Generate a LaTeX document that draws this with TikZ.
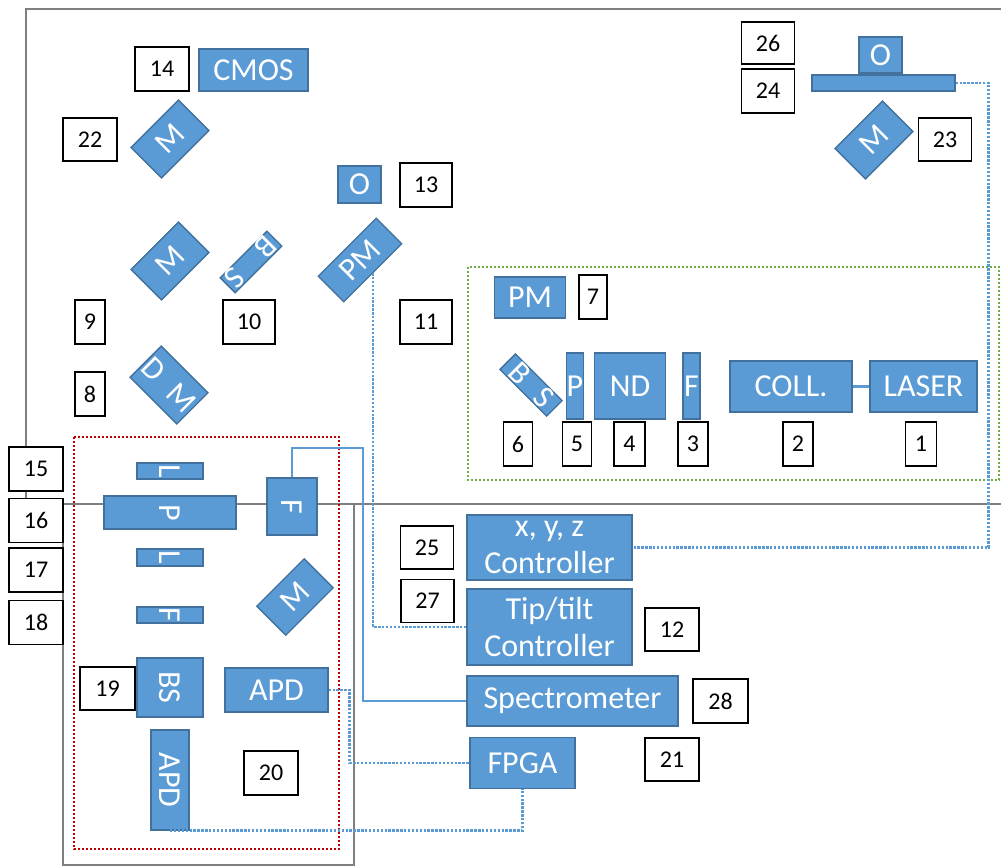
\documentclass[tikz,border=0pt]{standalone}
\usepackage{fontspec}
\setmainfont{Carlito}
\usepackage{graphicx}
\usepackage{tikz}

\definecolor{compblue}{HTML}{5B9BD5}
\definecolor{compedge}{HTML}{41719C}
\definecolor{benchgray}{HTML}{7F7F7F}
\definecolor{zonered}{HTML}{C00000}
\definecolor{zonegreen}{HTML}{70AD47}

\begin{document}
\begin{tikzpicture}[
    x=1pt, y=-1pt,
    comp/.style={rectangle, draw=compedge, line width=1.3pt, fill=compblue,
                 text=white, inner sep=0pt, align=center,
                 font=\fontsize{32}{37}\selectfont},
    num/.style={rectangle, draw=black, line width=1.8pt, fill=white,
                inner sep=0pt, font=\fontsize{24}{28}\selectfont},
    bench/.style={draw=benchgray, line width=2.2pt},
    zone/.style={line width=2.8pt, dash pattern=on 2.4pt off 1.6pt},
    wire/.style={draw=compblue, line width=2.6pt, dash pattern=on 2.4pt off 1.5pt},
    fibre/.style={draw=compblue, line width=2.8pt}
]
\useasboundingbox (0,0) rectangle (1001,866);

% Tables
\draw[bench] (1001,9) -- (26,9) -- (26,504) -- (1001,504);
\draw[bench] (63,504) rectangle (354,865);

% Groups
\draw[zone, draw=zonered] (74,437) rectangle (339,849);
\draw[zone, draw=zonegreen] (468,267) rectangle (999,480);

% Imaging path
\node[num, minimum width=54, minimum height=44] (n14) at (162, 69) {14};
\node[comp, minimum width=109, minimum height=42] (cmos) at (253.5, 70) {CMOS};
\node[num, minimum width=54, minimum height=43] (n22) at (90, 139.5) {22};
\node[comp, rotate=45, minimum width=67, minimum height=43] (m22) at (170, 139) {M};
\node[comp, minimum width=43, minimum height=37] (obj13) at (359.5, 184.5) {O};
\node[num, minimum width=52, minimum height=44] (n13) at (426, 185) {13};
\node[comp, rotate=45, minimum width=67, minimum height=43] (m9) at (170, 261) {M};
\node[comp, rotate=-135, minimum width=66, minimum height=21] (bs10) at (251, 262)
    {B\hspace{28pt}S};
\node[comp, rotate=45, minimum width=82, minimum height=36] (pm9) at (360, 260) {PM};
\node[num, minimum width=30, minimum height=44] (n9) at (90, 322) {9};
\node[num, minimum width=52, minimum height=44] (n10) at (249, 322) {10};
\node[num, minimum width=52, minimum height=44] (n11) at (426, 322) {11};
\node[comp, rotate=-45, minimum width=66, minimum height=44] (dm8) at (169, 385)
    {D\enspace M};
\node[num, minimum width=30, minimum height=44] (n8) at (90, 394) {8};

% Sample stage
\node[num, minimum width=53, minimum height=42] (n26) at (768, 43) {26};
\node[num, minimum width=53, minimum height=44] (n24) at (768, 91) {24};
\node[comp, minimum width=43, minimum height=36] (obj23) at (880.5, 55) {O};
\node[comp, minimum width=143, minimum height=16] (stage) at (883.5, 83) {};
\node[comp, rotate=45, minimum width=67, minimum height=43] (m23) at (874, 140) {M};
\node[num, minimum width=53, minimum height=43] (n23) at (945, 139.5) {23};

% Excitation
\node[comp, minimum width=71, minimum height=41] (pm7) at (530, 297.5) {PM};
\node[num, minimum width=28, minimum height=44] (n7) at (593, 297) {7};
\node[comp, rotate=-45, minimum width=66, minimum height=22] (bs6) at (531, 385)
    {B\hspace{18pt}S};
\node[comp, minimum width=16, minimum height=66] (pol5) at (575, 386) {P};
\node[comp, minimum width=71, minimum height=66] (nd4) at (630, 386) {ND};
\node[comp, minimum width=17, minimum height=66] (flt3) at (691.5, 386) {F};
\node[comp, minimum width=122, minimum height=51] (coll) at (791, 386.5) {COLL.};
\node[comp, minimum width=107, minimum height=51] (laser) at (923.5, 386.5) {LASER};
\node[num, minimum width=29, minimum height=44] (n6) at (518, 444) {6};
\node[num, minimum width=29, minimum height=44] (n5) at (577, 444) {5};
\node[num, minimum width=31, minimum height=44] (n4) at (629.5, 444) {4};
\node[num, minimum width=30, minimum height=44] (n3) at (693, 444) {3};
\node[num, minimum width=30, minimum height=44] (n2) at (798, 444) {2};
\node[num, minimum width=31, minimum height=44] (n1) at (921, 444) {1};
\draw[fibre] (coll) -- (laser);

% Detection
\node[num, minimum width=54, minimum height=44] (n15) at (36, 469) {15};
\node[num, minimum width=54, minimum height=44] (n16) at (36, 520.5) {16};
\node[num, minimum width=54, minimum height=44] (n17) at (36, 570) {17};
\node[num, minimum width=54, minimum height=44] (n18) at (36, 622.5) {18};
\node[comp, minimum width=66, minimum height=16] (lens15) at (170, 471)
    {\rotatebox{-90}{L}};
\node[comp, minimum width=132, minimum height=33] (pol16) at (170, 512.5)
    {\rotatebox{-90}{P}};
\node[comp, minimum width=50, minimum height=57] (flt16) at (292, 506.5)
    {\rotatebox{-90}{F}};
\node[comp, minimum width=66, minimum height=17] (lens17) at (170, 557.5)
    {\rotatebox{-90}{L}};
\node[comp, minimum width=66, minimum height=16] (flt18) at (170, 615)
    {\rotatebox{-90}{F}};
\node[comp, rotate=45, minimum width=67, minimum height=41] (mirr) at (295, 597) {M};
\node[num, minimum width=55, minimum height=43] (n19) at (107.5, 688.5) {19};
\node[comp, minimum width=66, minimum height=59] (bs19) at (170, 687.5)
    {\rotatebox{-90}{BS}};
\node[comp, minimum width=103, minimum height=44] (apdR) at (276.5, 690) {APD};
\node[comp, minimum width=38, minimum height=100] (apdB) at (170, 780)
    {\rotatebox{-90}{APD}};
\node[num, minimum width=54, minimum height=44] (n20) at (271, 773) {20};

% Electronics
\node[num, minimum width=53, minimum height=43] (n25) at (427, 547.5) {25};
\node[comp, minimum width=165, minimum height=65] (xyz) at (549.5, 547.5)
    {x, y, z\\Controller};
\node[num, minimum width=53, minimum height=43] (n27) at (427.5, 601) {27};
\node[comp, minimum width=165, minimum height=76] (tip) at (549.5, 627)
    {Tip/tilt\\Controller};
\node[num, minimum width=54, minimum height=43] (n12) at (672, 629.5) {12};
\node[comp, minimum width=211, minimum height=50] (spec) at (572.5, 701)
    {Spectrometer};
\node[num, minimum width=55, minimum height=44] (n28) at (720.5, 701) {28};
\node[comp, minimum width=105, minimum height=51] (fpga) at (522.5, 763) {FPGA};
\node[num, minimum width=54, minimum height=43] (n21) at (672, 759.5) {21};

% Links
\coordinate (fibreturn) at (363, 448);
\draw[fibre] (flt16.north) |- (fibreturn) |- (spec.west);
\draw[wire] (pm9.south) |- (tip.west);
\draw[wire] (stage.east) -- ++(33, 0) |- (xyz.east);
\draw[wire] (apdR.east) -- ++(21, 0) |- (fpga.west);
\draw[wire] (apdB.south) -| (fpga.south);

\end{tikzpicture}
\end{document}
